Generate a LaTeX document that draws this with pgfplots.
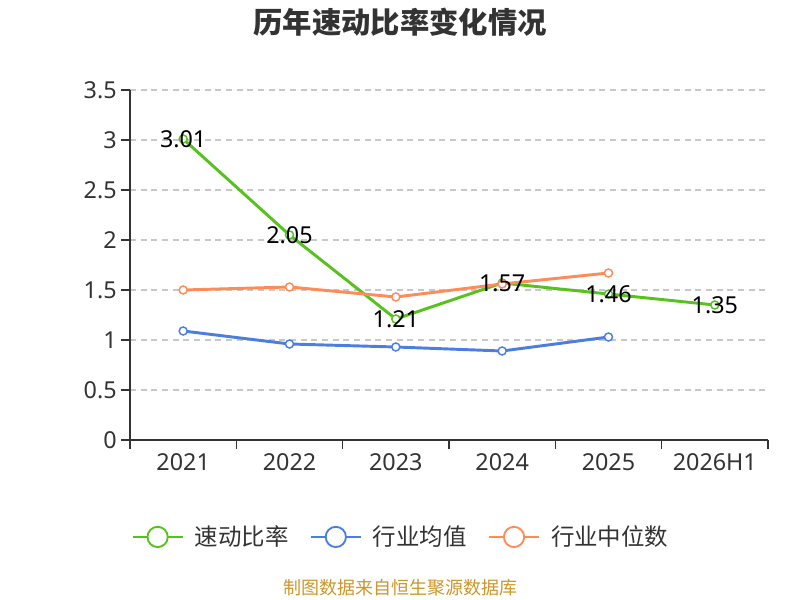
\documentclass[border=0pt]{standalone}
\usepackage{fontspec}
\setmainfont{Noto Sans}
\newfontfamily\cjk{Noto Sans CJK SC}
\usepackage{pgfplots}
\pgfplotsset{compat=1.18}
\definecolor{cgreen}{RGB}{87,193,30}
\definecolor{cblue}{RGB}{76,126,226}
\definecolor{corange}{RGB}{255,139,88}
\definecolor{txt}{RGB}{51,51,51}
\definecolor{gridc}{RGB}{200,200,200}
\definecolor{src}{RGB}{204,150,40}
\begin{document}
\begin{tikzpicture}
\path[use as bounding box] (0,0) rectangle (600pt,450pt);
\begin{axis}[
  at={(97.5pt,120pt)}, anchor=south west, scale only axis,
  width=478.5pt, height=262.5pt,
  xmin=-0.5, xmax=5.5, ymin=0, ymax=3.5,
  axis x line=bottom, axis y line=left,
  axis line style={-, draw=txt, line width=1.1pt},
  xtick={-0.5,0.5,1.5,2.5,3.5,4.5,5.5},
  xticklabels={2021,2022,2023,2024,2025,2026H1,},
  x tick label style={xshift=39.875pt},
  ytick={0,0.5,1,1.5,2,2.5,3,3.5},
  tick align=outside, major tick length=6.5pt,
  tick style={draw=txt, line width=1.1pt},
  ymajorgrids, grid style={draw=gridc, dash pattern=on 4.5pt off 3.5pt, line width=0.9pt},
  tick label style={font=\fontsize{17.5}{17.5}\selectfont, text=txt},
  /pgf/number format/assume math mode=true,
  legend columns=3,
  legend style={at={(0.4232,-0.277)}, anchor=center, draw=none, fill=none,
    /tikz/every odd column/.style={column sep=8.25pt},
    /tikz/every even column/.style={column sep=16pt},
    nodes={inner sep=0pt, font=\cjk\fontsize{17.6}{17.6}\selectfont, text=txt}},
  legend cell align=left,
  legend image code/.code={
    \draw[#1, mark=none, line width=1.5pt] (0pt,0pt) -- (37.5pt,0pt);
    \draw[#1, mark=none, line width=1.4pt, fill=white] (18.75pt,0pt) circle (7.6pt);
  },
]
\addplot[cgreen, line width=2.2pt, mark=*, mark size=3pt, mark options={fill=white, line width=1.1pt}]
  coordinates {(0,3.01) (1,2.05) (2,1.21) (3,1.57) (4,1.46) (5,1.35)};
\addlegendentry{速动比率}
\addplot[cblue, line width=2.2pt, mark=*, mark size=3pt, mark options={fill=white, line width=1.1pt}]
  coordinates {(0,1.09) (1,0.96) (2,0.93) (3,0.89) (4,1.03)};
\addlegendentry{行业均值}
\addplot[corange, line width=2.2pt, mark=*, mark size=3pt, mark options={fill=white, line width=1.1pt}]
  coordinates {(0,1.50) (1,1.53) (2,1.43) (3,1.56) (4,1.67)};
\addlegendentry{行业中位数}
\addplot[draw=none, mark=none, forget plot, point meta=y,
  nodes near coords={\pgfmathprintnumber[fixed,precision=2,zerofill]{\pgfplotspointmeta}},
  every node near coord/.style={anchor=center, inner sep=0pt, text=black, font=\fontsize{17.5}{17.5}\selectfont}]
  coordinates {(0,3.01) (1,2.05) (2,1.21) (3,1.57) (4,1.46) (5,1.35)};
\end{axis}
\node[font=\cjk\bfseries\fontsize{22}{22}\selectfont, text=txt] at (300pt,433.5pt) {历年速动比率变化情况};
\node[font=\cjk\fontsize{13.5}{13.5}\selectfont, text=src] at (300pt,9pt) {制图数据来自恒生聚源数据库};
\end{tikzpicture}
\end{document}
